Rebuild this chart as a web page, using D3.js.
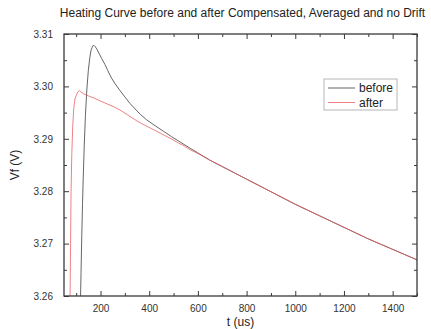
<!DOCTYPE html>
<html>
<head>
<meta charset="utf-8">
<script src="https://cdn.jsdelivr.net/npm/d3@7"></script>
<style>
  html, body { margin: 0; padding: 0; background: #fff; }
  svg { display: block; font-family: "Liberation Sans", Arial, sans-serif; }
</style>
</head>
<body>
<svg id="chart" width="431" height="329"></svg>
<script>
// Heating curve data: forward voltage Vf (V) versus time t (us)
const beforeT = [118, 120, 123, 126, 129, 133, 138, 144, 150, 156, 161, 166, 170, 174, 178, 185, 195, 205, 218, 230, 245, 260, 280, 300, 320, 342, 365, 390, 424, 460, 492, 530, 568, 600, 650, 700, 750, 800, 850, 900, 950, 1000, 1050, 1100, 1150, 1200, 1250, 1300, 1350, 1400, 1450, 1500];
const beforeV = [3.2600, 3.2645, 3.2715, 3.2775, 3.2825, 3.2885, 3.2945, 3.2995, 3.3031, 3.3055, 3.3069, 3.3075, 3.3078, 3.3078, 3.3076, 3.3071, 3.3062, 3.3053, 3.3042, 3.3030, 3.3016, 3.3005, 3.2992, 3.2980, 3.2968, 3.2957, 3.2946, 3.2936, 3.2925, 3.2914, 3.2904, 3.2893, 3.2882, 3.2873, 3.2859, 3.2847, 3.2835, 3.2823, 3.2811, 3.2799, 3.2787, 3.2775, 3.2764, 3.2753, 3.2742, 3.2731, 3.2720, 3.2709, 3.2699, 3.2689, 3.2679, 3.2669];

const afterT = [75, 77, 79, 82, 86, 90, 95, 102, 108, 113, 120, 130, 150, 177, 200, 230, 260, 287, 310, 330, 350, 369, 390, 420, 445, 465, 490, 520, 545, 568, 600, 650, 700, 750, 800, 850, 900, 950, 1000, 1050, 1100, 1150, 1200, 1250, 1300, 1350, 1400, 1450, 1500];
const afterV = [3.2600, 3.2700, 3.2800, 3.2870, 3.2925, 3.2958, 3.2976, 3.2985, 3.2990, 3.2992, 3.2989, 3.2986, 3.2982, 3.2977, 3.2972, 3.2966, 3.2960, 3.2953, 3.2946, 3.2940, 3.2934, 3.2929, 3.2924, 3.2917, 3.2911, 3.2906, 3.2900, 3.2892, 3.2886, 3.2879, 3.2872, 3.2859, 3.2847, 3.2835, 3.2823, 3.2811, 3.2799, 3.2787, 3.2775, 3.2764, 3.2753, 3.2742, 3.2731, 3.2720, 3.2709, 3.2699, 3.2689, 3.2679, 3.2669];

const xTicks = [200, 400, 600, 800, 1000, 1200, 1400];
const xMinorTicks = [100, 300, 500, 700, 900, 1100, 1300, 1500];
const yTicks = [3.26, 3.27, 3.28, 3.29, 3.30, 3.31];
const yMinorTicks = [3.265, 3.275, 3.285, 3.295, 3.305];

const seriesNames = ["before", "after"];
const seriesColors = ["#555555", "#e85a5e"];

const svg = d3.select("#chart");
const margin = { left: 64, right: 14, top: 34, bottom: 33 };
const W = 431, H = 329;
const x = d3.scaleLinear().domain([50, 1500]).range([margin.left, W - margin.right]);
const y = d3.scaleLinear().domain([3.26, 3.31]).range([H - margin.bottom, margin.top]);

const axisColor = "#3a3a3a";
const labelColor = "#333";

// Title
svg.append("text")
  .attr("x", (margin.left + W - margin.right) / 2 + 2)
  .attr("y", 17)
  .attr("text-anchor", "middle")
  .attr("font-size", 12)
  .attr("fill", "#222")
  .text("Heating Curve before and after Compensated, Averaged and no Drift");

// Clip the curves to the plot frame
svg.append("clipPath").attr("id", "plotClip")
  .append("rect")
  .attr("x", margin.left).attr("y", margin.top)
  .attr("width", W - margin.right - margin.left)
  .attr("height", H - margin.bottom - margin.top);

const line = d3.line().x(d => x(d[0])).y(d => y(d[1]));
const beforeData = beforeT.map((t, i) => [t, beforeV[i]]);
const afterData = afterT.map((t, i) => [t, afterV[i]]);

const plot = svg.append("g").attr("clip-path", "url(#plotClip)");
plot.append("path").datum(beforeData)
  .attr("d", line).attr("fill", "none")
  .attr("stroke", seriesColors[0]).attr("stroke-width", 0.9);
plot.append("path").datum(afterData)
  .attr("d", line).attr("fill", "none")
  .attr("stroke", seriesColors[1]).attr("stroke-width", 0.9)
  .attr("stroke-opacity", 0.85);

// Axes: inward ticks, mirrored on top and right
function styleAxis(g) {
  g.select(".domain").remove();
  g.selectAll(".tick line").attr("stroke", axisColor).attr("stroke-width", 1);
  g.selectAll(".tick text").attr("fill", labelColor).attr("font-size", 10)
    .attr("font-family", "Liberation Sans, Arial, sans-serif");
}
const bottomY = H - margin.bottom, topY = margin.top;
const leftX = margin.left, rightX = W - margin.right;

svg.append("g").attr("transform", `translate(0,${bottomY})`)
  .call(d3.axisBottom(x).tickValues(xTicks).tickSize(-5).tickPadding(9).tickFormat(d3.format("d")))
  .call(styleAxis);
svg.append("g").attr("transform", `translate(0,${bottomY})`)
  .call(d3.axisBottom(x).tickValues(xMinorTicks).tickSize(-3).tickFormat(""))
  .call(styleAxis);
svg.append("g").attr("transform", `translate(0,${topY})`)
  .call(d3.axisTop(x).tickValues(xTicks).tickSize(-5).tickFormat(""))
  .call(styleAxis);
svg.append("g").attr("transform", `translate(0,${topY})`)
  .call(d3.axisTop(x).tickValues(xMinorTicks).tickSize(-3).tickFormat(""))
  .call(styleAxis);

svg.append("g").attr("transform", `translate(${leftX},0)`)
  .call(d3.axisLeft(y).tickValues(yTicks).tickSize(-5).tickPadding(11).tickFormat(d3.format(".2f")))
  .call(styleAxis);
svg.append("g").attr("transform", `translate(${leftX},0)`)
  .call(d3.axisLeft(y).tickValues(yMinorTicks).tickSize(-3).tickFormat(""))
  .call(styleAxis);
svg.append("g").attr("transform", `translate(${rightX},0)`)
  .call(d3.axisRight(y).tickValues(yTicks).tickSize(-5).tickFormat(""))
  .call(styleAxis);
svg.append("g").attr("transform", `translate(${rightX},0)`)
  .call(d3.axisRight(y).tickValues(yMinorTicks).tickSize(-3).tickFormat(""))
  .call(styleAxis);

// Plot frame
svg.append("rect")
  .attr("x", leftX).attr("y", topY)
  .attr("width", rightX - leftX).attr("height", bottomY - topY)
  .attr("fill", "none").attr("stroke", axisColor).attr("stroke-width", 1.3);

// Axis titles
svg.append("text")
  .attr("x", (leftX + rightX) / 2).attr("y", 326)
  .attr("text-anchor", "middle").attr("font-size", 12).attr("fill", "#222")
  .text("t (us)");
svg.append("text")
  .attr("transform", `translate(19,${(topY + bottomY) / 2}) rotate(-90)`)
  .attr("text-anchor", "middle").attr("font-size", 12).attr("fill", "#222")
  .text("Vf (V)");

// Legend
const legend = svg.append("g").attr("transform", "translate(324,79)");
legend.append("rect").attr("x", 0).attr("y", 0).attr("width", 73).attr("height", 31)
  .attr("fill", "#fff").attr("stroke", "#b5b5b5").attr("stroke-width", 1);
seriesNames.forEach((name, i) => {
  const ly = 9 + i * 14.5;
  legend.append("line").attr("x1", 4).attr("x2", 31).attr("y1", ly).attr("y2", ly)
    .attr("stroke", seriesColors[i]).attr("stroke-width", 0.9)
    .attr("stroke-opacity", i === 1 ? 0.85 : 1);
  legend.append("text").attr("x", 35).attr("y", ly + 4)
    .attr("font-size", 12).attr("fill", "#222").text(name);
});
</script>
</body>
</html>
